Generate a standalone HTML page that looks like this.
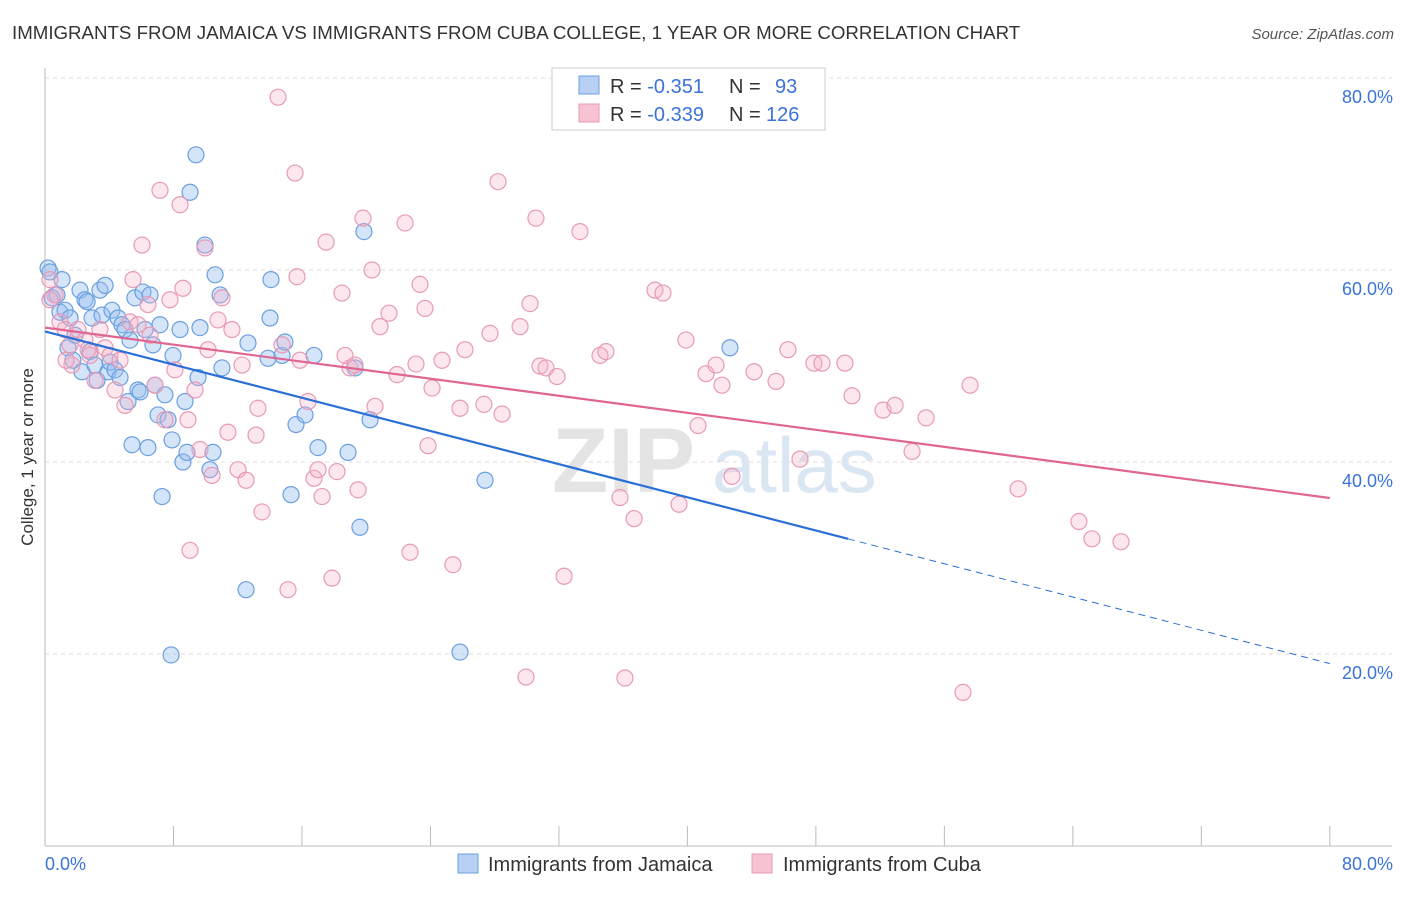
<!DOCTYPE html>
<html><head><meta charset="utf-8"><style>
body{margin:0;background:#fff;font-family:"Liberation Sans",sans-serif;}
svg text{font-family:"Liberation Sans",sans-serif;}
</style></head><body>
<svg width="1406" height="892" xmlns="http://www.w3.org/2000/svg">
<text x="12" y="39" font-size="18.7" fill="#333">IMMIGRANTS FROM JAMAICA VS IMMIGRANTS FROM CUBA COLLEGE, 1 YEAR OR MORE CORRELATION CHART</text>
<text x="1394" y="39" font-size="15" fill="#555" font-style="italic" text-anchor="end">Source: ZipAtlas.com</text>
<g id="grid"></g>
<g><text x="552" y="492" font-size="92" fill="#e4e4e4" font-weight="bold" font-family="Liberation Serif">ZIP</text><text x="712" y="492" font-size="78" fill="#dbe6f3">atlas</text></g>
<g id="axes"></g>
<g id="pts"></g>
<g id="trends"></g>
<text transform="translate(33,457) rotate(-90)" font-size="17" fill="#333" text-anchor="middle">College, 1 year or more</text>
<text x="45" y="870" font-size="18" fill="#3b73d8">0.0%</text>
<text x="1393" y="870" font-size="18" fill="#3b73d8" text-anchor="end">80.0%</text>
<g>
<rect x="552" y="68" width="273" height="62" fill="#fff" stroke="#ccc"/>
<rect x="579" y="76" width="20" height="18" fill="#b8d0f3" stroke="#6a9fe0"/>
<rect x="579" y="104" width="20" height="18" fill="#f7c3d3" stroke="#e89ab5"/>
<text x="610" y="93" font-size="20" fill="#333">R = <tspan fill="#3b73d8">-0.351</tspan><tspan x="729">N = </tspan><tspan x="775" fill="#3b73d8">93</tspan></text>
<text x="610" y="121" font-size="20" fill="#333">R = <tspan fill="#3b73d8">-0.339</tspan><tspan x="729">N = </tspan><tspan x="766" fill="#3b73d8">126</tspan></text>
</g>
<g>
<rect x="458" y="854" width="20" height="19" fill="#b8d0f3" stroke="#6a9fe0"/>
<text x="488" y="871" font-size="20" fill="#333">Immigrants from Jamaica</text>
<rect x="752" y="854" width="20" height="19" fill="#f7c3d3" stroke="#e89ab5"/>
<text x="783" y="871" font-size="20" fill="#333">Immigrants from Cuba</text>
</g>
</svg>
<script>
const yTicks=[20,40,60,80];
const yTickLabels=["20.0%","40.0%","60.0%","80.0%"];
const xTicks=[0,8,16,24,32,40,48,56,64,72,80];
const jamaicaX=[0.19,0.31,0.44,0.75,0.93,1.06,1.25,1.43,1.56,1.74,1.87,2.18,2.30,2.49,2.62,2.80,2.93,3.11,3.24,3.42,3.55,3.74,3.92,4.05,4.17,4.36,4.55,4.67,4.79,4.98,5.17,5.29,5.42,5.60,5.79,5.92,6.10,6.23,6.41,6.54,6.72,6.85,7.04,7.16,7.29,7.47,7.66,7.91,7.97,7.85,8.41,8.59,8.72,8.84,9.03,9.40,9.53,9.65,9.96,10.27,10.46,10.59,10.90,11.02,12.52,12.64,13.89,14.01,14.07,14.76,14.94,15.32,15.63,16.19,16.75,17.00,18.87,19.30,19.61,19.86,20.24,25.84,27.40,42.65];
const jamaicaY=[60.2,59.8,57.1,57.4,55.6,59.0,55.8,51.9,55.0,50.6,53.2,57.9,49.4,56.9,56.7,51.5,55.0,50.1,48.5,57.9,55.3,58.4,49.4,50.4,55.8,49.6,55.0,48.8,54.3,53.8,46.3,52.7,41.8,57.1,47.5,47.3,57.7,53.8,41.5,57.4,52.2,48.0,44.9,54.3,36.4,47.0,44.4,42.3,51.1,19.9,53.8,40.0,46.3,41.0,68.1,72.0,48.8,54.0,62.6,39.2,41.0,59.5,57.4,49.8,26.7,52.4,50.8,55.0,59.0,51.1,52.5,36.6,43.9,44.9,51.1,41.5,41.0,49.8,33.2,64.0,44.4,20.2,38.1,51.9];
const cubaX=[0.31,0.62,0.93,1.25,1.56,1.68,2.05,2.49,2.80,3.11,3.42,3.74,4.05,4.36,4.67,4.98,5.29,5.48,5.79,6.04,6.41,6.54,6.85,7.16,7.47,7.78,8.09,8.41,8.59,8.90,9.03,9.34,9.65,9.96,10.15,10.40,10.77,11.02,11.39,11.64,12.02,12.27,12.52,13.14,13.26,13.51,14.51,14.76,15.13,15.57,15.69,15.88,16.38,16.75,17.00,17.25,17.50,17.87,18.18,18.49,18.68,18.99,19.30,19.49,19.80,20.36,20.55,20.86,21.42,21.92,22.42,22.73,23.10,23.35,23.66,24.10,23.85,24.72,25.40,25.84,26.15,27.33,27.71,28.21,28.46,29.58,30.20,30.57,30.82,31.20,31.88,32.32,33.31,34.56,34.93,35.80,36.11,36.68,37.98,38.48,39.48,39.91,40.66,41.16,41.78,42.15,42.78,44.15,45.52,46.26,47.01,47.88,48.38,49.81,50.25,52.18,52.93,53.99,54.86,57.16,57.60,60.59,64.38,65.19,67.00,29.95,0.31,1.31,2.68];
const cubaY=[59.0,57.4,54.6,53.8,52.2,50.1,53.8,52.7,51.1,48.5,53.8,51.9,51.1,47.5,50.6,45.9,54.6,59.0,54.3,62.6,56.4,53.2,48.0,68.3,44.4,56.9,49.6,66.8,58.1,44.4,30.8,47.5,41.3,62.3,51.7,38.6,54.8,57.1,43.1,53.8,39.2,50.1,38.1,42.8,45.6,34.8,78.0,52.2,26.7,70.1,59.3,50.6,46.3,38.3,39.2,36.4,62.9,27.9,39.0,57.6,51.1,49.8,50.1,37.1,65.4,60.0,45.8,54.1,55.5,49.1,64.9,30.6,50.2,58.5,56.0,47.7,41.7,50.6,29.3,45.6,51.7,46.0,53.4,69.2,45.0,54.1,56.5,65.4,50.0,49.8,48.9,28.1,64.0,51.1,51.5,36.3,17.5,34.1,57.9,57.6,35.6,52.7,43.8,49.2,50.1,48.0,38.5,49.4,48.4,51.7,40.3,50.3,50.3,50.3,46.9,45.4,45.9,41.1,44.6,16.0,48.0,37.2,33.8,32.0,31.7,17.6,56.9,50.6,51.7];
const jamaicaTrend=[0,53.6,50,32.0,80,19.0];
const cubaTrend=[0,54.0,80,36.25];
const NS="http://www.w3.org/2000/svg";
const X=v=>45+v*16.06, Y=v=>846-v*9.6;
function mk(t,a,p){const e=document.createElementNS(NS,t);for(const k in a)e.setAttribute(k,a[k]);p.appendChild(e);return e;}
const grid=document.getElementById('grid'),axes=document.getElementById('axes'),pts=document.getElementById('pts'),tr=document.getElementById('trends');
yTicks.forEach((t,i)=>{
 const l=mk('line',{x1:45,x2:1392,y1:Y(t),y2:Y(t),stroke:'#ddd','stroke-dasharray':'4,4'},grid);
 
 
 const tx=mk('text',{x:1393,y:Y(t)+25,'font-size':18,fill:'#3b73d8','text-anchor':'end'},grid);
 tx.textContent=yTickLabels[i];
 
 
});
const ax=mk('line',{x1:45,x2:1392,y1:846,y2:846,stroke:'#bbb'},axes);


const ay=mk('line',{x1:45,x2:45,y1:68,y2:846,stroke:'#bbb'},axes);


xTicks.forEach(t=>{
 const l=mk('line',{x1:X(t),x2:X(t),y1:826,y2:846,stroke:'#bbb'},axes);
 
 
});
jamaicaX.forEach((x,i)=>{
 const c=mk('circle',{cx:X(x),cy:Y(jamaicaY[i]),r:8,fill:'rgba(150,190,240,0.4)',stroke:'#6a9fe0','stroke-width':1.2},pts);
 
 
});
cubaX.forEach((x,i)=>{
 const c=mk('circle',{cx:X(x),cy:Y(cubaY[i]),r:8,fill:'rgba(245,175,198,0.3)',stroke:'#e89ab5','stroke-width':1.2},pts);
 
 
});
const j1=mk('line',{x1:X(jamaicaTrend[0]),y1:Y(jamaicaTrend[1]),x2:X(jamaicaTrend[2]),y2:Y(jamaicaTrend[3]),stroke:'#2a6fd6','stroke-width':2.2},tr);


const j2=mk('line',{x1:X(jamaicaTrend[2]),y1:Y(jamaicaTrend[3]),x2:X(jamaicaTrend[4]),y2:Y(jamaicaTrend[5]),stroke:'#2a6fd6','stroke-width':1,'stroke-dasharray':'7,5'},tr);


const c1=mk('line',{x1:X(cubaTrend[0]),y1:Y(cubaTrend[1]),x2:X(cubaTrend[2]),y2:Y(cubaTrend[3]),stroke:'#e06593','stroke-width':2.2},tr);


</script>
</body></html>
